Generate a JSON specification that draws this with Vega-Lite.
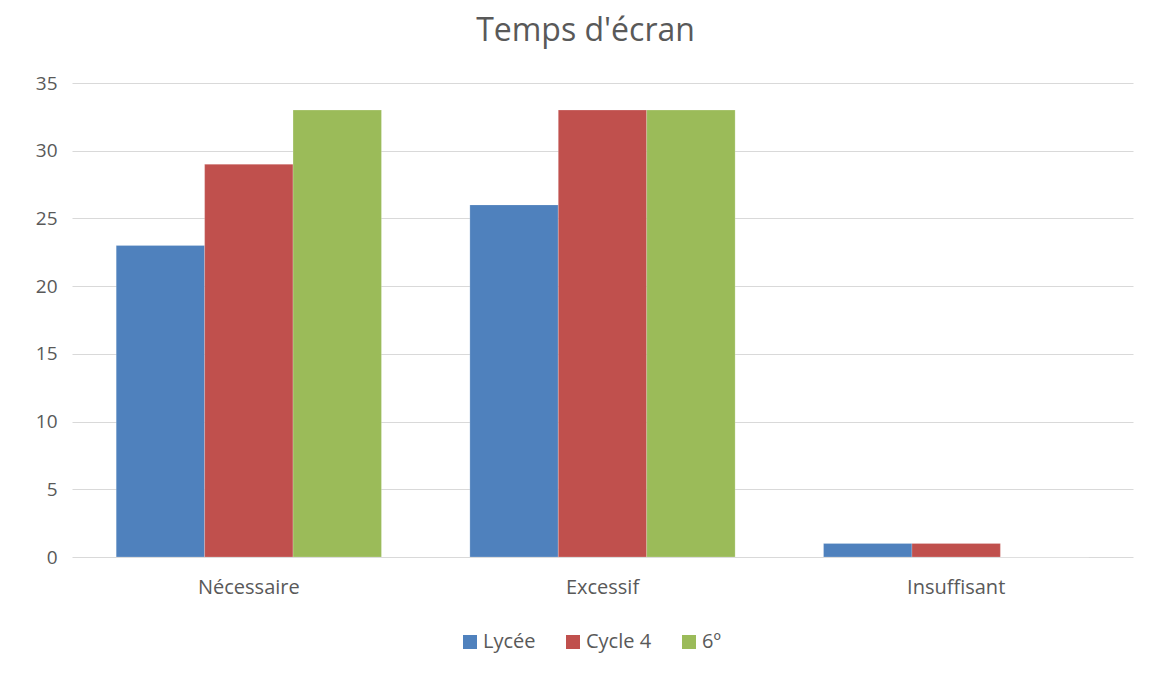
{
  "$schema": "https://vega.github.io/schema/vega-lite/v6.json",
  "width": 1061,
  "height": 474,
  "autosize": "none",
  "padding": {"left": 72, "top": 83, "right": 16, "bottom": 118},
  "background": "white",
  "title": {
    "text": "Temps d'écran",
    "fontSize": 32,
    "font": "Open Sans",
    "fontWeight": "normal",
    "color": "#595959",
    "anchor": "middle",
    "offset": 26,
    "dx": -17
  },
  "data": {
    "values": [
      {"cat": "Nécessaire", "serie": "Lycée", "v": 23},
      {"cat": "Nécessaire", "serie": "Cycle 4", "v": 29},
      {"cat": "Nécessaire", "serie": "6º", "v": 33},
      {"cat": "Excessif", "serie": "Lycée", "v": 26},
      {"cat": "Excessif", "serie": "Cycle 4", "v": 33},
      {"cat": "Excessif", "serie": "6º", "v": 33},
      {"cat": "Insuffisant", "serie": "Lycée", "v": 1},
      {"cat": "Insuffisant", "serie": "Cycle 4", "v": 1},
      {"cat": "Insuffisant", "serie": "6º", "v": 0}
    ]
  },
  "mark": {"type": "bar", "stroke": "white", "strokeOpacity": 0.4, "strokeWidth": 0.5},
  "encoding": {
    "x": {
      "field": "cat",
      "type": "nominal",
      "sort": ["Nécessaire", "Excessif", "Insuffisant"],
      "scale": {"paddingInner": 0.25, "paddingOuter": 0.125},
      "axis": {
        "title": null,
        "labelAngle": 0,
        "ticks": false,
        "domain": false,
        "labelPadding": 20,
        "labelFontSize": 20,
        "labelFont": "Open Sans",
        "labelColor": "#595959"
      }
    },
    "xOffset": {
      "field": "serie",
      "type": "nominal",
      "sort": ["Lycée", "Cycle 4", "6º"],
      "scale": {"paddingInner": 0, "paddingOuter": 0}
    },
    "y": {
      "field": "v",
      "type": "quantitative",
      "scale": {"domain": [0, 35], "nice": false},
      "axis": {
        "title": null,
        "values": [0, 5, 10, 15, 20, 25, 30, 35],
        "ticks": false,
        "domain": false,
        "gridColor": "#d9d9d9",
        "gridWidth": 1,
        "labelPadding": 15,
        "labelFontSize": 19,
        "labelFont": "Open Sans",
        "labelColor": "#595959"
      }
    },
    "color": {
      "field": "serie",
      "type": "nominal",
      "sort": ["Lycée", "Cycle 4", "6º"],
      "scale": {"domain": ["Lycée", "Cycle 4", "6º"], "range": ["#4F81BD", "#C0504D", "#9BBB59"]},
      "legend": {
        "title": null,
        "orient": "none",
        "legendX": 388,
        "legendY": 549,
        "direction": "horizontal",
        "symbolType": "square",
        "symbolSize": 196,
        "symbolStrokeWidth": 0,
        "labelFontSize": 20,
        "labelFont": "Open Sans",
        "labelColor": "#595959",
        "labelOffset": 3,
        "columnPadding": 27
      }
    }
  },
  "config": {"view": {"stroke": null}}
}
